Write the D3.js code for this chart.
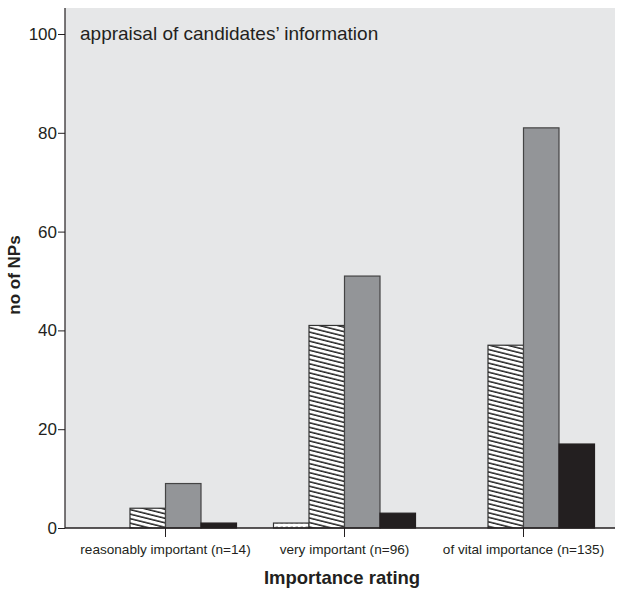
<!DOCTYPE html>
<html><head><meta charset="utf-8">
<script src="https://cdn.jsdelivr.net/npm/d3@7"></script>
<style>body{margin:0;background:#fff;} svg{display:block;font-family:"Liberation Sans",Arial,sans-serif;}</style>
</head><body>
<svg id="c" width="617" height="589"></svg>
<script>
const categories = ["reasonably important (n=14)", "very important (n=96)", "of vital importance (n=135)"];
const seriesNames = ["s1", "s2", "s3", "s4"];
const s1 = [0, 1, 0];
const s2 = [4, 41, 37];
const s3 = [9, 51, 81];
const s4 = [1, 3, 17];
const yTicks = [0, 20, 40, 60, 80, 100];
const innerTitle = "appraisal of candidates\u2019 information";
const xTitle = "Importance rating";
const yTitle = "no of NPs";

(function(){
const series = [s1, s2, s3, s4];
const svg = d3.select("#c");
const mL = 65, mR = 615, mT = 8, mB = 528;

const defs = svg.append("defs");
const ph = defs.append("pattern").attr("id","hatch").attr("patternUnits","userSpaceOnUse")
  .attr("width", 8).attr("height", 4.4).attr("patternTransform","rotate(14)");
ph.append("rect").attr("width",8).attr("height",4.4).attr("fill","#fff");
ph.append("line").attr("x1",0).attr("x2",8).attr("y1",1).attr("y2",1).attr("stroke","#111").attr("stroke-width",1.4);
const pd = defs.append("pattern").attr("id","dots").attr("patternUnits","userSpaceOnUse")
  .attr("width", 5).attr("height", 4).attr("y", 1);
pd.append("rect").attr("width",5).attr("height",4).attr("fill","#fff");
pd.append("line").attr("x1",0.5).attr("x2",3).attr("y1",2).attr("y2",2).attr("stroke","#888").attr("stroke-width",1);

const fills = ["url(#dots)", "url(#hatch)", "#939598", "#231f20"];
const strokes = ["#333", "#333", "#444", "#231f20"];

svg.append("rect").attr("x", mL).attr("y", mT).attr("width", mR-mL).attr("height", mB-mT).attr("fill", "#e6e7e8");

const y = d3.scaleLinear().domain([0, 100]).range([mB, mB - 494]);
const x0 = d3.scaleBand().domain(categories).range([76, 613]).paddingInner(0.2).paddingOuter(0.1);
const groupW = 142;
const x1 = d3.scaleBand().domain(seriesNames).range([0, groupW]);

const g = svg.append("g");
categories.forEach((cat, ci) => {
  const cx = x0(cat) + x0.bandwidth()/2;
  series.forEach((arr, si) => {
    const v = arr[ci];
    if (v <= 0) return;
    g.append("rect")
      .attr("x", cx - groupW/2 + x1(seriesNames[si]))
      .attr("y", y(v))
      .attr("width", x1.bandwidth())
      .attr("height", y(0) - y(v))
      .attr("fill", fills[si])
      .attr("stroke", strokes[si])
      .attr("stroke-width", 1.2);
  });
});

const ya = svg.append("g").attr("transform", `translate(${mL},0)`)
  .call(d3.axisLeft(y).tickValues(yTicks).tickSize(7).tickPadding(1));
ya.select(".domain").remove();
ya.append("line").attr("x1",0).attr("x2",0).attr("y1",mT).attr("y2",mB).attr("stroke","#231f20").attr("stroke-width",1.2);
ya.selectAll(".tick line").attr("stroke","#231f20");
ya.selectAll(".tick text").attr("font-size", 17).attr("fill","#231f20").attr("font-family","Liberation Sans, Arial, sans-serif");

const xa = svg.append("g").attr("transform", `translate(0,${mB})`)
  .call(d3.axisBottom(x0).tickSize(9).tickPadding(7));
xa.select(".domain").remove();
xa.append("line").attr("x1",mL).attr("x2",mR).attr("y1",0).attr("y2",0).attr("stroke","#231f20").attr("stroke-width",1.5);
xa.selectAll(".tick line").attr("stroke","#231f20");
xa.selectAll(".tick text").attr("font-size", 13.6).attr("fill","#231f20").attr("font-family","Liberation Sans, Arial, sans-serif");

svg.append("text").attr("x", 80).attr("y", 40).attr("font-size", 19).attr("fill","#231f20").text(innerTitle);
svg.append("text").attr("x", 342).attr("y", 584).attr("text-anchor","middle").attr("font-size", 18.5).attr("font-weight","bold").attr("fill","#231f20").text(xTitle);
svg.append("text").attr("transform","translate(20,275) rotate(-90)").attr("text-anchor","middle").attr("font-size", 17).attr("font-weight","bold").attr("fill","#231f20").text(yTitle);
})();
</script>
</body></html>
